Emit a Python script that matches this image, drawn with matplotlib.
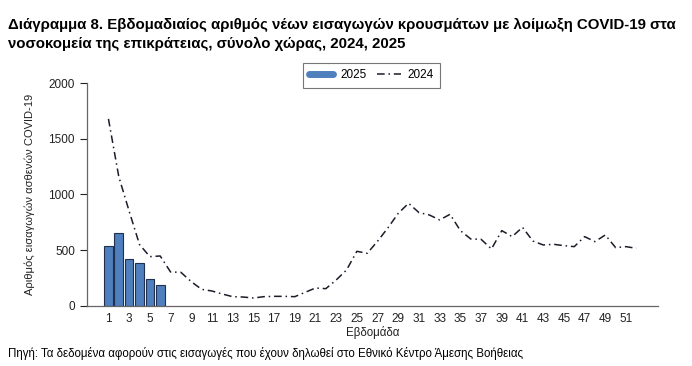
import matplotlib.pyplot as plt
from matplotlib.lines import Line2D

# weekly admissions
weeks_2024 = list(range(1, 53))
adm_2024 = [1680, 1160, 850, 550, 441, 447, 303, 300, 216, 147,
            132, 105, 81, 78, 69, 81, 84, 84, 81, 120,
            159, 153, 231, 321, 489, 471, 580, 700, 831, 921,
            837, 816, 771, 822, 675, 600, 597, 510, 675, 621,
            705, 582, 546, 552, 540, 531, 621, 576, 636, 522,
            531, 516]
weeks_2025 = [1, 2, 3, 4, 5, 6]
adm_2025 = [540, 651, 420, 384, 237, 189]

xtick_weeks = list(range(1, 53, 2))

title = ("Διάγραμμα 8. Εβδομαδιαίος αριθμός νέων εισαγωγών κρουσμάτων με λοίμωξη COVID-19 στα\n"
         "νοσοκομεία της επικράτειας, σύνολο χώρας, 2024, 2025")
source = "Πηγή: Τα δεδομένα αφορούν στις εισαγωγές που έχουν δηλωθεί στο Εθνικό Κέντρο Άμεσης Βοήθειας"

plt.rcParams['font.family'] = ['Liberation Sans', 'DejaVu Sans']

fig = plt.figure(figsize=(6.92, 3.66), dpi=100)
ax = fig.add_axes([0.1253, 0.1648, 0.8257, 0.6076])

bar_col = '#4F7FBD'
ax.bar(weeks_2025, adm_2025, width=0.84, color=bar_col, edgecolor='#1f3050', linewidth=0.8, zorder=2)
ax.plot(weeks_2024, adm_2024, color='#1c1c2a', linestyle=(0, (5, 2.5, 1, 2.5)), linewidth=1.1, zorder=3)

ax.set_xlim(-1.1, 54.1)
ax.set_ylim(0, 2000)
ax.set_yticks([0, 500, 1000, 1500, 2000])
ax.set_xticks(xtick_weeks)
ax.tick_params(axis='x', length=0, labelsize=8.5, pad=5, colors='#222222')
ax.tick_params(axis='y', length=5, labelsize=8.5, colors='#222222', width=0.8)
for t in ax.get_yticklines():
    t.set_color('#666666')
for s in ['top', 'right']:
    ax.spines[s].set_visible(False)
for s in ['left', 'bottom']:
    ax.spines[s].set_color('#666666')
    ax.spines[s].set_linewidth(0.9)

ax.set_ylabel('Αριθμός εισαγωγών ασθενών COVID-19', fontsize=8, color='#222222', labelpad=10)
ax.set_xlabel('Εβδομάδα', fontsize=8.3, color='#222222', labelpad=1)

handles = [Line2D([], [], color=bar_col, linewidth=5, solid_capstyle='round'),
           Line2D([], [], color='#1c1c2a', linestyle=(0, (5, 2.5, 1, 2.5)), linewidth=1.1)]
leg = fig.legend(handles, ['2025', '2024'], loc='center', bbox_to_anchor=(0.537, 0.795),
                 ncol=2, fontsize=8.5, frameon=True, fancybox=False, handlelength=2.0,
                 columnspacing=0.9, borderpad=0.55, handletextpad=0.6)
leg.get_frame().set_edgecolor('#555555')
leg.get_frame().set_linewidth(0.8)

fig.text(0.012, 0.95, title, fontsize=10.8, fontweight='bold', va='top', ha='left', linespacing=1.4)
fig.text(0.012, 0.035, source, fontsize=8.3, va='center', ha='left')

plt.savefig('out.png', dpi=100)
